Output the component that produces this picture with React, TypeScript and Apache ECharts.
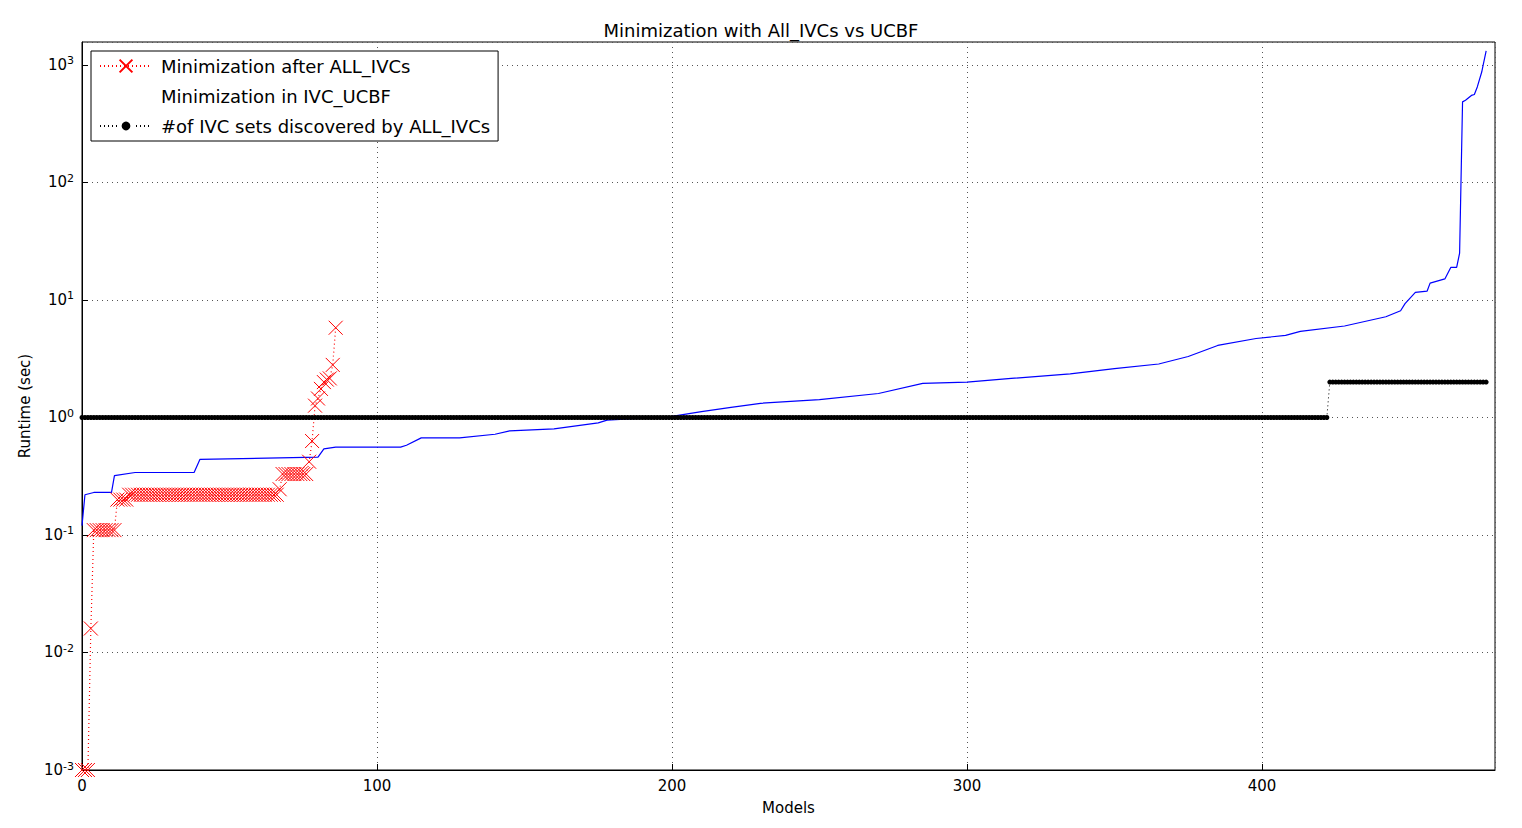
import React, { useEffect, useRef } from 'react';
import * as echarts from 'echarts';

// red: runs of [value, count], index starts at 0
const afterAllIvcsRuns: [number, number][] = [
  [0.001, 3], [0.016, 1], [0.11, 8], [0.2, 4], [0.22, 51], [0.245, 1], [0.33, 9],
  [0.42, 1], [0.63, 1], [1.26, 1], [1.45, 1], [1.75, 1], [2.0, 1], [2.1, 1], [2.15, 1], [2.8, 1], [5.8, 1],
];

// blue: keyframes [model, runtime]
const ucbfPoints: [number, number][] = [
  [0, 0.12], [1, 0.22], [4, 0.23], [10, 0.23], [11, 0.32], [18, 0.34], [38, 0.34], [40, 0.44],
  [80, 0.46], [82, 0.54], [86, 0.56], [108, 0.56], [110, 0.58], [115, 0.67], [128, 0.67],
  [140, 0.72], [145, 0.77], [160, 0.8], [175, 0.9], [178, 0.95], [200, 1.02], [210, 1.12],
  [220, 1.22], [230, 1.32], [250, 1.42], [270, 1.6], [285, 1.95], [300, 2.0], [315, 2.15],
  [335, 2.35], [350, 2.6], [365, 2.85], [375, 3.3], [385, 4.1], [398, 4.7], [408, 5.0],
  [413, 5.4], [428, 6.0], [442, 7.2], [447, 8.1], [448.5, 9.3], [452, 11.6], [456, 11.9],
  [457, 13.9], [462, 15.1], [464, 18.9], [466, 18.9], [467, 25], [468, 485], [469, 500],
  [471, 550], [472, 560], [473, 650], [474.5, 870], [475, 1000], [476, 1320],
];

// black: runs of [value, count]
const ivcSetRuns: [number, number][] = [[1, 423], [2, 54]];

const expandRuns = (runs: [number, number][]) => {
  const out: [number, number][] = [];
  for (const [v, c] of runs) for (let k = 0; k < c; k++) out.push([out.length, v]);
  return out;
};

const FONT = 'DejaVu Sans';

export default function App() {
  const ref = useRef<HTMLDivElement | null>(null);

  useEffect(() => {
    if (!ref.current) return;
    const chart = echarts.init(ref.current, undefined, { renderer: 'svg' });
    chart.setOption({
      animation: false,
      textStyle: { fontFamily: FONT },
      title: {
        text: 'Minimization with All_IVCs vs UCBF',
        left: 'center',
        top: 8,
        textStyle: { fontFamily: FONT, fontSize: 18, fontWeight: 'normal', color: '#000' },
      },
      grid: { left: 74, right: 19, top: 34, bottom: 48, show: true, borderColor: '#000', borderWidth: 1 },
      legend: {
        orient: 'vertical',
        left: 83,
        top: 43,
        itemGap: 12,
        itemWidth: 52,
        itemHeight: 16,
        padding: [6, 8, 6, 8],
        borderColor: '#000',
        borderWidth: 1,
        backgroundColor: '#fff',
        textStyle: { fontFamily: FONT, fontSize: 18, color: '#000', padding: [0, 0, 0, 4] },
        data: [
          { name: 'Minimization after ALL_IVCs' },
          { name: 'Minimization in IVC_UCBF', icon: 'none' },
          { name: '#of IVC sets discovered by ALL_IVCs', itemStyle: { borderWidth: 4, borderColor: '#fff' } },
        ],
      },
      xAxis: {
        type: 'value',
        min: 0,
        max: 479,
        interval: 100,
        name: 'Models',
        nameLocation: 'middle',
        nameGap: 30,
        nameTextStyle: { fontFamily: FONT, fontSize: 15, color: '#000' },
        axisLine: { lineStyle: { color: '#000' } },
        axisTick: { inside: true, length: 6, lineStyle: { color: '#000' } },
        axisLabel: { fontSize: 15, color: '#000', showMaxLabel: false, margin: 8 },
        splitLine: { show: true, lineStyle: { color: '#555', type: [1, 4] } },
      },
      yAxis: {
        type: 'log',
        logBase: 10,
        min: 0.001,
        max: 1567,
        name: 'Runtime (sec)',
        nameLocation: 'middle',
        nameGap: 50,
        nameTextStyle: { fontFamily: FONT, fontSize: 15, color: '#000' },
        axisLine: { lineStyle: { color: '#000' } },
        axisTick: { inside: true, length: 6, lineStyle: { color: '#000' } },
        splitLine: { show: true, lineStyle: { color: '#555', type: [1, 4] } },
        axisLabel: {
          color: '#000',
          showMaxLabel: false,
          formatter: (v: number) => `{b|10}{s|${Math.round(Math.log10(v))}}`,
          rich: {
            b: { fontSize: 15, color: '#000', fontFamily: FONT },
            s: { fontSize: 11, color: '#000', fontFamily: FONT, verticalAlign: 'top', padding: [0, 0, 8, 0] },
          },
        },
      },
      series: [
        {
          name: 'Minimization after ALL_IVCs',
          type: 'line',
          data: expandRuns(afterAllIvcsRuns),
          symbol: 'path://M0,0L10,10M10,0L0,10',
          symbolSize: 14,
          itemStyle: { color: '#ff0000', borderColor: '#ff0000', borderWidth: 1 },
          lineStyle: { color: '#ff0000', width: 1.2, type: [1, 3] },
          z: 3,
        },
        {
          name: 'Minimization in IVC_UCBF',
          type: 'line',
          data: ucbfPoints,
          showSymbol: false,
          symbol: 'none',
          itemStyle: { color: '#0000ff' },
          lineStyle: { color: '#0000ff', width: 1.2 },
          z: 2,
        },
        {
          name: '#of IVC sets discovered by ALL_IVCs',
          type: 'line',
          data: expandRuns(ivcSetRuns),
          symbol: 'circle',
          symbolSize: 5,
          itemStyle: { color: '#000' },
          lineStyle: { color: '#000', width: 1, type: [1, 3] },
          z: 4,
        },
      ],
    });
    return () => chart.dispose();
  }, []);

  return <div ref={ref} style={{ width: 1506, height: 812 }} />;
}
